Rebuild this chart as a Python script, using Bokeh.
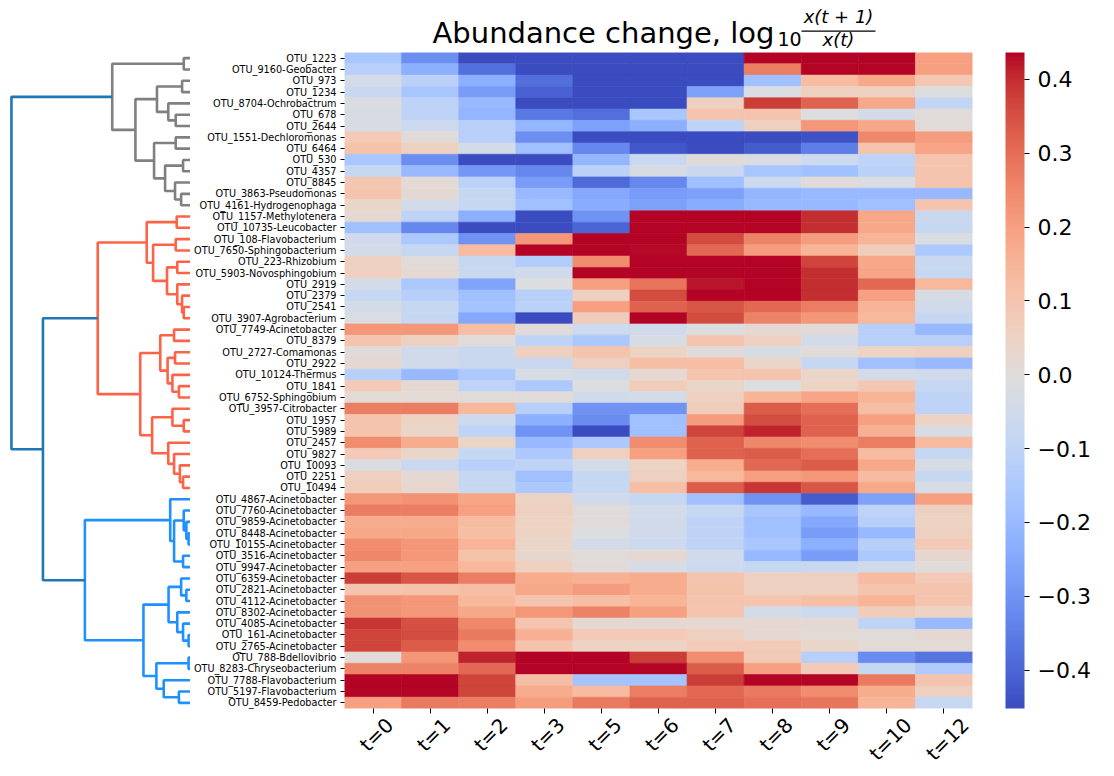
import numpy as np
from bokeh.plotting import figure
from bokeh.layouts import row, column
from bokeh.models import (ColumnDataSource, LinearColorMapper, ColorBar, FixedTicker,
                          CustomJSTickFormatter, Range1d, FactorRange, Label, LinearAxis,
                          BoxAnnotation)
from bokeh.transform import transform
from bokeh.embed import file_html
from bokeh.resources import INLINE

# ---------------- data ----------------
times = ["t=0", "t=1", "t=2", "t=3", "t=5", "t=6", "t=7", "t=8", "t=9", "t=10", "t=12"]

otus = [
    "OTU_1223", "OTU_9160-Geobacter", "OTU_973", "OTU_1234", "OTU_8704-Ochrobactrum",
    "OTU_678", "OTU_2644", "OTU_1551-Dechloromonas", "OTU_6464", "OTU_530", "OTU_4357",
    "OTU_8845", "OTU_3863-Pseudomonas", "OTU_4161-Hydrogenophaga",
    "OTU_1157-Methylotenera", "OTU_10735-Leucobacter", "OTU_108-Flavobacterium",
    "OTU_7650-Sphingobacterium", "OTU_223-Rhizobium", "OTU_5903-Novosphingobium",
    "OTU_2919", "OTU_2379", "OTU_2541", "OTU_3907-Agrobacterium", "OTU_7749-Acinetobacter",
    "OTU_8379", "OTU_2727-Comamonas", "OTU_2922", "OTU_10124-Thermus", "OTU_1841",
    "OTU_6752-Sphingobium", "OTU_3957-Citrobacter", "OTU_1957", "OTU_5989", "OTU_2457",
    "OTU_9827", "OTU_10093", "OTU_2251", "OTU_10494",
    "OTU_4867-Acinetobacter", "OTU_7760-Acinetobacter", "OTU_9859-Acinetobacter",
    "OTU_8448-Acinetobacter", "OTU_10155-Acinetobacter", "OTU_3516-Acinetobacter",
    "OTU_9947-Acinetobacter", "OTU_6359-Acinetobacter", "OTU_2821-Acinetobacter",
    "OTU_4112-Acinetobacter", "OTU_8302-Acinetobacter", "OTU_4085-Acinetobacter",
    "OTU_161-Acinetobacter", "OTU_2765-Acinetobacter", "OTU_788-Bdellovibrio",
    "OTU_8283-Chryseobacterium", "OTU_7788-Flavobacterium", "OTU_5197-Flavobacterium",
    "OTU_8459-Pedobacter",
]

values_gray = [
    [-0.16, -0.31, -0.45, -0.45, -0.45, -0.45, -0.45, 0.44, 0.44, 0.44, 0.20],
    [-0.12, -0.23, -0.38, -0.45, -0.45, -0.45, -0.45, 0.27, 0.44, 0.44, 0.20],
    [-0.04, -0.11, -0.23, -0.38, -0.45, -0.45, -0.45, -0.18, 0.13, 0.18, 0.09],
    [-0.07, -0.16, -0.28, -0.41, -0.45, -0.45, -0.27, -0.02, 0.06, 0.06, -0.01],
    [-0.02, -0.10, -0.20, -0.45, -0.45, -0.45, 0.06, 0.38, 0.32, 0.18, -0.09],
    [-0.03, -0.10, -0.21, -0.36, -0.38, -0.16, 0.10, 0.10, -0.01, -0.04, 0.00],
    [-0.03, -0.06, -0.12, -0.21, -0.27, -0.23, -0.10, 0.06, 0.22, 0.18, 0.00],
    [0.08, 0.00, -0.12, -0.31, -0.45, -0.45, -0.45, -0.45, -0.44, 0.25, 0.21],
    [0.11, 0.06, -0.04, -0.18, -0.33, -0.43, -0.45, -0.42, -0.35, 0.10, 0.19],
    [-0.16, -0.31, -0.45, -0.45, -0.21, -0.07, 0.00, -0.02, -0.06, -0.10, 0.10],
    [-0.08, -0.20, -0.29, -0.33, -0.11, -0.03, -0.07, -0.16, -0.18, -0.11, 0.10],
    [0.09, 0.01, -0.11, -0.28, -0.39, -0.33, -0.18, -0.06, 0.00, -0.02, 0.10],
    [0.10, 0.02, -0.08, -0.20, -0.25, -0.28, -0.27, -0.21, -0.20, -0.20, -0.20],
    [0.04, -0.04, -0.08, -0.18, -0.24, -0.27, -0.24, -0.20, -0.20, -0.18, 0.10],
]

values_red = [
    [0.02, -0.10, -0.23, -0.45, -0.30, 0.44, 0.44, 0.44, 0.40, 0.18, -0.07],
    [-0.18, -0.33, -0.45, -0.45, -0.40, 0.44, 0.44, 0.44, 0.40, 0.18, -0.08],
    [-0.05, -0.15, -0.30, 0.22, 0.44, 0.44, 0.36, 0.26, 0.21, 0.15, -0.02],
    [-0.04, -0.08, 0.13, 0.44, 0.44, 0.43, 0.31, 0.21, 0.15, 0.07, -0.15],
    [0.06, 0.00, -0.08, -0.13, 0.24, 0.44, 0.44, 0.44, 0.37, 0.18, -0.07],
    [0.06, 0.02, -0.07, -0.05, 0.44, 0.44, 0.44, 0.44, 0.40, 0.19, -0.08],
    [-0.04, -0.15, -0.26, -0.01, 0.20, 0.29, 0.42, 0.44, 0.40, 0.31, 0.14],
    [-0.08, -0.12, -0.18, -0.12, 0.06, 0.36, 0.44, 0.44, 0.40, 0.20, -0.03],
    [-0.04, -0.08, -0.17, -0.11, 0.20, 0.32, 0.34, 0.31, 0.27, 0.15, -0.05],
    [-0.02, -0.08, -0.25, -0.45, 0.07, 0.44, 0.36, 0.26, 0.22, 0.14, -0.08],
    [0.22, 0.22, 0.12, 0.00, -0.06, -0.05, -0.01, 0.02, 0.00, -0.12, -0.20],
    [0.10, 0.06, 0.00, -0.10, -0.15, -0.03, 0.10, 0.06, -0.04, -0.12, -0.12],
    [0.00, -0.05, -0.07, 0.06, 0.10, 0.05, 0.00, -0.03, 0.00, 0.05, 0.06],
    [0.02, -0.05, -0.07, -0.07, 0.06, 0.12, 0.12, 0.04, -0.08, -0.18, -0.20],
    [-0.12, -0.20, -0.15, -0.03, -0.05, 0.02, 0.10, 0.10, 0.04, -0.04, -0.05],
    [0.08, 0.02, -0.10, -0.15, -0.01, 0.07, 0.04, -0.01, 0.05, 0.09, -0.08],
    [0.01, 0.01, 0.00, 0.00, -0.05, -0.04, 0.06, 0.15, 0.19, 0.15, -0.10],
    [0.27, 0.27, 0.14, -0.12, -0.30, -0.30, 0.07, 0.33, 0.30, 0.12, -0.10],
    [0.10, 0.05, -0.06, -0.23, -0.32, -0.18, 0.21, 0.36, 0.32, 0.20, 0.05],
    [0.10, 0.04, -0.10, -0.30, -0.45, -0.18, 0.37, 0.41, 0.32, 0.16, -0.03],
    [0.24, 0.17, 0.04, -0.20, -0.15, 0.24, 0.32, 0.25, 0.24, 0.27, 0.13],
    [0.08, 0.04, -0.08, -0.15, 0.06, 0.20, 0.32, 0.33, 0.30, 0.13, -0.08],
    [-0.02, -0.07, -0.12, -0.10, -0.04, 0.05, 0.17, 0.31, 0.33, 0.18, -0.03],
    [0.06, 0.02, -0.08, -0.18, -0.08, 0.06, 0.14, 0.20, 0.22, 0.13, -0.08],
    [0.07, 0.03, -0.08, -0.15, -0.08, 0.12, 0.33, 0.39, 0.34, 0.18, -0.03],
]

values_blue = [
    [0.22, 0.23, 0.19, 0.05, -0.05, -0.08, -0.18, -0.30, -0.42, -0.27, 0.20],
    [0.27, 0.27, 0.20, 0.06, 0.00, -0.04, -0.08, -0.16, -0.20, -0.10, 0.06],
    [0.17, 0.17, 0.13, 0.05, 0.00, -0.05, -0.10, -0.18, -0.25, -0.12, 0.05],
    [0.18, 0.18, 0.12, 0.05, -0.01, -0.05, -0.10, -0.18, -0.28, -0.20, 0.06],
    [0.24, 0.22, 0.15, 0.04, -0.04, -0.06, -0.10, -0.16, -0.23, -0.12, 0.08],
    [0.25, 0.22, 0.11, 0.03, 0.00, 0.02, -0.05, -0.20, -0.28, -0.15, 0.03],
    [0.20, 0.20, 0.14, 0.06, 0.00, -0.03, -0.06, -0.08, -0.07, -0.05, 0.00],
    [0.38, 0.34, 0.27, 0.17, 0.16, 0.17, 0.10, 0.06, 0.06, 0.13, 0.08],
    [0.10, 0.11, 0.12, 0.18, 0.21, 0.17, 0.11, 0.06, 0.06, 0.10, 0.10],
    [0.23, 0.22, 0.14, 0.10, 0.12, 0.15, 0.10, 0.10, 0.12, 0.15, 0.10],
    [0.23, 0.22, 0.18, 0.22, 0.26, 0.20, 0.10, -0.04, -0.06, 0.07, 0.05],
    [0.39, 0.35, 0.25, 0.10, 0.02, 0.02, 0.02, 0.02, 0.02, -0.10, -0.20],
    [0.37, 0.36, 0.28, 0.16, 0.08, 0.08, 0.06, 0.02, 0.01, 0.00, 0.02],
    [0.37, 0.33, 0.24, 0.10, 0.05, 0.05, 0.08, 0.08, 0.04, 0.01, 0.01],
    [0.00, 0.22, 0.41, 0.44, 0.44, 0.38, 0.24, 0.08, -0.12, -0.32, -0.37],
    [0.26, 0.26, 0.31, 0.44, 0.44, 0.44, 0.33, 0.20, 0.08, -0.08, -0.14],
    [0.44, 0.44, 0.37, 0.12, -0.17, -0.17, 0.38, 0.44, 0.44, 0.28, 0.10],
    [0.44, 0.44, 0.37, 0.17, 0.13, 0.27, 0.31, 0.28, 0.24, 0.17, 0.06],
    [0.20, 0.28, 0.27, 0.21, 0.28, 0.32, 0.32, 0.30, 0.29, 0.15, -0.08],
]

# dendrogram linkage (scipy style): ids < 58 are rows, id 58+k is merge k
merge_left = [0, 2, 5, 4, 59, 7, 9, 12, 11, 64, 63, 62, 58,
              14, 16, 18, 22, 21, 20, 73, 72, 71, 24, 26, 29, 28, 81, 80, 32, 31, 37, 36, 35, 34,
              87, 85, 79,
              42, 41, 40, 44, 97, 39, 47, 46, 51, 50, 49, 102, 53, 56, 55, 107, 106, 100,
              94, 70]
merge_right = [1, 3, 6, 60, 61, 8, 10, 13, 65, 66, 67, 68, 69,
               15, 17, 19, 23, 74, 75, 76, 77, 78, 25, 27, 30, 82, 83, 84, 33, 86, 38, 88, 89, 90,
               91, 92, 93,
               43, 95, 96, 45, 98, 99, 48, 101, 52, 103, 104, 105, 54, 57, 108, 109, 110, 111,
               112, 113]
merge_height = [0.07, 0.087, 0.153, 0.23, 0.347, 0.153, 0.077, 0.097, 0.16, 0.263, 0.377, 0.57, 0.81,
                0.143, 0.153, 0.137, 0.07, 0.087, 0.137, 0.243, 0.387, 0.453, 0.17, 0.16, 0.12,
                0.187, 0.237, 0.313, 0.07, 0.187, 0.077, 0.11, 0.17, 0.23, 0.397, 0.52, 0.96,
                0.02, 0.043, 0.07, 0.077, 0.17, 0.21, 0.043, 0.097, 0.02, 0.077, 0.137, 0.227,
                0.02, 0.12, 0.277, 0.353, 0.487, 1.093,
                1.527, 1.853]
merge_cluster = ["gray"] * 13 + ["red"] * 24 + ["blue"] * 18 + ["top"] * 2

cluster_colors = {"gray": "#808080", "red": "#ff6347", "blue": "#1e90ff", "top": "#1f77b4"}

vmin, vmax = -0.452, 0.4365
cbar_ticks = [-0.4, -0.3, -0.2, -0.1, 0.0, 0.1, 0.2, 0.3, 0.4]

# ---------------- colormap (coolwarm) ----------------
cw_table = [(59, 76, 192), (68, 90, 204), (77, 104, 215), (87, 117, 225), (98, 130, 234),
            (108, 142, 241), (119, 154, 247), (130, 165, 251), (141, 176, 254), (152, 185, 255),
            (163, 194, 255), (174, 201, 253), (184, 208, 249), (194, 213, 244), (204, 217, 238),
            (213, 219, 230), (221, 221, 221), (229, 216, 209), (236, 211, 197), (241, 204, 185),
            (245, 196, 173), (247, 187, 160), (247, 177, 148), (247, 166, 135), (244, 154, 123),
            (241, 141, 111), (236, 127, 99), (229, 112, 88), (222, 96, 77), (213, 80, 66),
            (203, 62, 56), (192, 40, 47), (180, 4, 38)]
tab = np.array(cw_table, dtype=float)
tpos = np.linspace(0, 1, len(tab))
palette = []
for g in np.linspace(0, 1, 256):
    rgb = [int(round(np.interp(g, tpos, tab[:, c]))) for c in range(3)]
    palette.append("#%02x%02x%02x" % tuple(rgb))

mapper = LinearColorMapper(palette=palette, low=vmin, high=vmax)

# ---------------- layout metrics ----------------
TOP, BOTTOM = 52, 68
FRAME_H = 656
HEAT_LEFT, HEAT_W = 342, 628
TOTAL_W = 1114
DEND_LEFT, DEND_RIGHT = 2, 190
FONT = "DejaVu Sans"
XFS = 20  # x tick label size
TSHIFT = 8  # text labels in the title strip draw a little low; lift them

# ---------------- title strip (log10 of a fraction, as plain text) ----------------
ttl = figure(x_range=Range1d(0, TOTAL_W), y_range=Range1d(TOP, 0),
             frame_width=TOTAL_W, frame_height=TOP, min_border=0,
             x_axis_location=None, y_axis_location=None,
             toolbar_location=None, output_backend="svg")
ttl.grid.visible = False
ttl.outline_line_color = None
FRAC_X = 838
ttl.add_layout(Label(x=432, y=41 - TSHIFT - 1, text="Abundance change, log", text_font=FONT,
                     text_font_size="29px", text_color="black",
                     text_baseline="alphabetic", text_align="left"))
ttl.add_layout(Label(x=777, y=47 - TSHIFT - 1, text="10", text_font=FONT, text_font_size="19px",
                     text_color="black", text_baseline="alphabetic", text_align="left"))
ttl.add_layout(Label(x=FRAC_X, y=24 - TSHIFT, text="x(t + 1)", text_font=FONT,
                     text_font_size="18px", text_font_style="italic", text_color="black",
                     text_baseline="alphabetic", text_align="center"))
ttl.add_layout(Label(x=FRAC_X, y=47 - TSHIFT, text="x(t)", text_font=FONT,
                     text_font_size="18px", text_font_style="italic", text_color="black",
                     text_baseline="alphabetic", text_align="center"))
ttl.add_layout(BoxAnnotation(left=FRAC_X - 37, right=FRAC_X + 37,
                             top=30.0, bottom=31.3,
                             fill_color="black", fill_alpha=1.0, line_color=None))

# ---------------- heatmap ----------------
values = values_gray + values_red + values_blue
ncol = len(times)
xs, ys, vs = [], [], []
for i, name in enumerate(otus):
    for j, t in enumerate(times):
        xs.append(j + 0.5)          # column centre on a numeric axis
        ys.append(name)
        vs.append(values[i][j])
src = ColumnDataSource(dict(x=xs, y=ys, v=vs))

heat = figure(x_range=Range1d(0, ncol), y_range=FactorRange(factors=otus[::-1]),
              frame_width=HEAT_W, frame_height=FRAME_H,
              min_border_left=HEAT_LEFT - DEND_RIGHT, min_border_right=TOTAL_W - HEAT_LEFT - HEAT_W,
              min_border_top=0, min_border_bottom=BOTTOM,
              toolbar_location=None, output_backend="svg")
heat.rect(x="x", y="y", width=1, height=1, source=src,
          fill_color=transform("v", mapper), line_color=transform("v", mapper), line_width=0.6)
heat.grid.visible = False
heat.outline_line_color = None

tick_axis = heat.xaxis[0]
tick_axis.ticker = FixedTicker(ticks=[j + 0.5 for j in range(ncol)])
tick_axis.formatter = CustomJSTickFormatter(code="return '';")
tick_axis.minor_tick_line_color = None
tick_axis.major_label_standoff = 0
tick_axis.major_tick_out = 5

for ax in (tick_axis, heat.yaxis[0]):
    ax.axis_line_color = None
    ax.major_tick_in = 0
    ax.major_tick_line_color = "black"
    ax.major_label_text_color = "black"
    ax.major_label_text_font = FONT
heat.yaxis.major_tick_out = 4
heat.yaxis.major_label_standoff = 4
heat.yaxis.major_label_text_font_size = "9.7px"

# rotated x labels: a second axis whose ticks centre each rotated label under its column
char_em = {"t": 0.392, "=": 0.838}
char_em.update({d: 0.636 for d in "0123456789"})
col_px = HEAT_W / ncol
label_ticks = []
for j, t in enumerate(times):
    w_px = sum(char_em[c] for c in t) * XFS
    label_ticks.append(j + 0.5 + 0.354 * (w_px + 0.5 * XFS) / col_px)
lab_axis = LinearAxis(ticker=FixedTicker(ticks=label_ticks),
                      formatter=CustomJSTickFormatter(args=dict(labs=times),
                                                      code="return labs[Math.round(tick - 0.5)];"),
                      major_tick_out=0, major_tick_in=0, minor_tick_out=0, minor_tick_in=0,
                      axis_line_color=None, major_label_orientation=np.pi / 4,
                      major_label_standoff=8, major_label_text_font_size=f"{XFS}px",
                      major_label_text_font=FONT, major_label_text_color="black")
heat.add_layout(lab_axis, "below")

cbar = ColorBar(color_mapper=mapper, ticker=FixedTicker(ticks=cbar_ticks),
                formatter=CustomJSTickFormatter(code="return (tick < -1e-9 ? '\u2212' : '') + Math.abs(tick).toFixed(1);"),
                width=19, padding=0, margin=0, location=(33, 0), label_standoff=8,
                major_tick_out=5, major_tick_in=0, major_tick_line_color="black",
                minor_tick_line_color=None,
                major_label_text_font_size="22px", major_label_text_font=FONT,
                major_label_text_color="black",
                bar_line_color=None, border_line_color=None, background_fill_color=None)
heat.add_layout(cbar, "right")

# ---------------- dendrogram ----------------
n = len(otus)
pos = {i: i + 0.5 for i in range(n)}
hgt = {i: 0.0 for i in range(n)}
dx, dy, dc = [], [], []
for k, (a, b, h) in enumerate(zip(merge_left, merge_right, merge_height)):
    dx.append([hgt[a], h, h, hgt[b]])
    dy.append([pos[a], pos[a], pos[b], pos[b]])
    dc.append(cluster_colors[merge_cluster[k]])
    pos[n + k] = (pos[a] + pos[b]) / 2
    hgt[n + k] = h
hmax = max(merge_height)

dend = figure(x_range=Range1d(hmax * 1.05, 0), y_range=Range1d(n, 0),
              frame_width=DEND_RIGHT - DEND_LEFT, frame_height=FRAME_H,
              min_border_left=DEND_LEFT, min_border_right=0,
              min_border_top=0, min_border_bottom=BOTTOM,
              x_axis_location=None, y_axis_location=None,
              toolbar_location=None, output_backend="svg")
dend.multi_line(xs="xs", ys="ys", line_color="c", line_width=2.6,
                source=ColumnDataSource(dict(xs=dx, ys=dy, c=dc)))
dend.grid.visible = False
dend.outline_line_color = None

layout = column(ttl, row(dend, heat))

open("out.html", "w").write(file_html(layout, INLINE))
